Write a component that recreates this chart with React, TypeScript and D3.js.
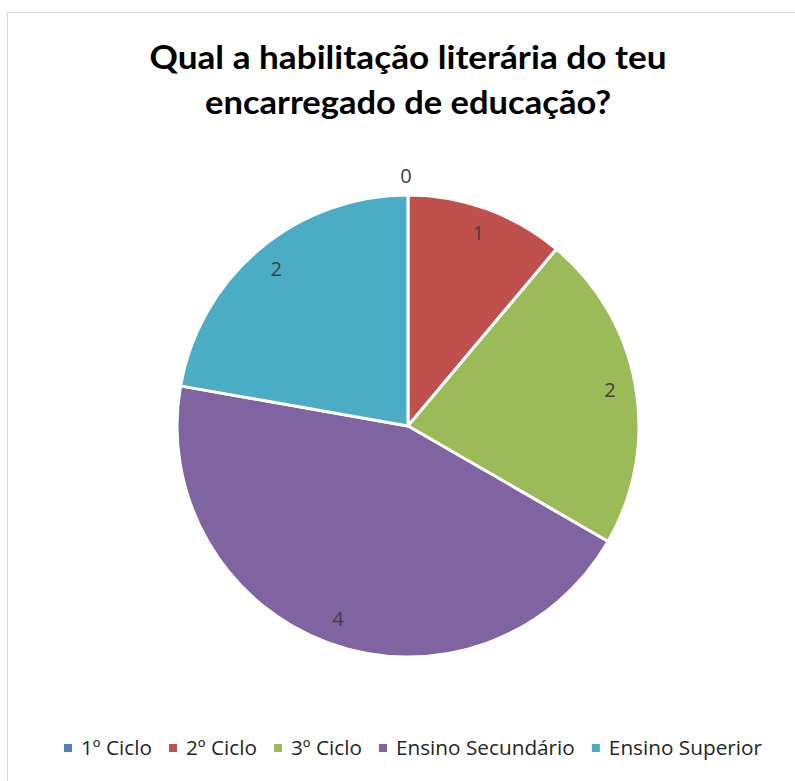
import React, { useMemo } from 'react';
import * as d3 from 'd3';

const title = ['Qual a habilitação literária do teu', 'encarregado de educação?'];
const categories = ['1º Ciclo', '2º Ciclo', '3º Ciclo', 'Ensino Secundário', 'Ensino Superior'];
const values = [0, 1, 2, 4, 2];
const colors = ['#4F81BD', '#C0504D', '#9BBB59', '#8064A2', '#4BACC6'];

const W = 795;
const H = 781;
const FONT = 'Lato, "Open Sans", sans-serif';
const LEGEND_FONT = '"Open Sans", Lato, sans-serif';

function measure(text: string, font: string) {
  const ctx = document.createElement('canvas').getContext('2d');
  if (!ctx) return text.length * 10;
  ctx.font = font;
  return ctx.measureText(text).width;
}

export default function App() {
  const cx = 408;
  const cy = 426;
  const radius = 231;

  const arcs = useMemo(() => {
    const pie = d3.pie<number>().sort(null).value(d => d);
    return pie(values);
  }, []);

  const arc = d3.arc<d3.PieArcDatum<number>>().innerRadius(0).outerRadius(radius);
  const labelArc = d3.arc<d3.PieArcDatum<number>>().innerRadius(205).outerRadius(205);

  // legend: fit the row between x=64 and x=762 by choosing the font size
  const marker = 8;
  const markerGap = 9;
  const itemGap = 17;
  const span = [64, 762];
  const baseWidths = categories.map(c => measure(c, `20px ${LEGEND_FONT}`));
  const fixed = categories.length * (marker + markerGap) + (categories.length - 1) * itemGap;
  const legendSize = Math.min(22, (20 * (span[1] - span[0] - fixed)) / d3.sum(baseWidths));
  const widths = baseWidths.map(w => (w * legendSize) / 20);
  const total = d3.sum(widths) + fixed;
  let lx = (span[0] + span[1]) / 2 - total / 2;
  const legendItems = categories.map((c, i) => {
    const x = lx;
    lx += marker + markerGap + widths[i] + itemGap;
    return { name: c, x, color: colors[i] };
  });
  const legendY = 748;

  return (
    <div style={{ position: 'absolute', left: 0, top: 0 }}>
      <svg width={W} height={H} style={{ display: 'block', background: '#fff' }}>
        <rect x={7.5} y={12.5} width={W} height={H} fill="#fff" stroke="#d9d9d9" strokeWidth={1} />
        <g fontFamily={FONT} fontWeight={700} fontSize={32} fill="#000" textAnchor="middle">
          <text x={408} y={69} textLength={517} lengthAdjust="spacingAndGlyphs">{title[0]}</text>
          <text x={408} y={114} textLength={406} lengthAdjust="spacingAndGlyphs">{title[1]}</text>
        </g>
        <g transform={`translate(${cx},${cy})`}>
          {arcs.map((a, i) => (
            <path key={i} d={arc(a) || ''} fill={colors[i]} stroke="#fff" strokeWidth={3} strokeLinejoin="round" />
          ))}
          {arcs.map((a, i) => {
            let [x, y] = labelArc.centroid(a);
            if (a.value === 0) {
              // zero-size slice: label sits just outside the rim
              const ang = a.startAngle;
              x = Math.sin(ang) * 250 - 2;
              y = -Math.cos(ang) * 250;
            }
            return (
              <text key={i} x={x} y={y} dy="0.35em" textAnchor="middle" fontFamily={LEGEND_FONT} fontSize={20} fill="#404040">
                {values[i]}
              </text>
            );
          })}
        </g>
        <g fontFamily={LEGEND_FONT} fontSize={legendSize} fill="#262626">
          {legendItems.map(d => (
            <g key={d.name} transform={`translate(${d.x},${legendY})`}>
              <rect x={0} y={-marker / 2} width={marker} height={marker} fill={d.color} />
              <text x={marker + markerGap} y={0} dy="0.35em">{d.name}</text>
            </g>
          ))}
        </g>
      </svg>
    </div>
  );
}
